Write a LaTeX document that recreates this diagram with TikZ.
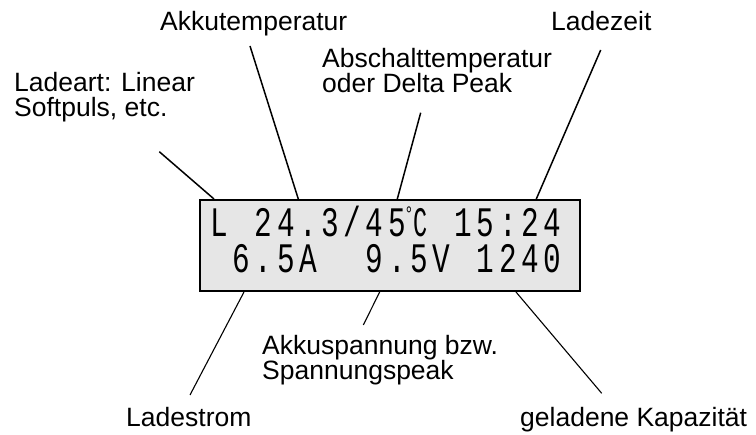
\documentclass[tikz,border=0pt]{standalone}
\usepackage{fontspec}
\setmainfont{Liberation Sans}
\newfontfamily\lcdfont[FakeStretch=0.7]{Liberation Mono}
\definecolor{lcdgray}{HTML}{E6E6E6}
% degree-Celsius sign built from a small ring and a narrow C
\newcommand{\degC}{\makebox[0.7em][l]{\raisebox{0.36em}{\fontsize{22}{22}\selectfont\char"00B0}\scalebox{0.8}[1]{C}}}
% set a row of characters in fixed display cells
\makeatletter
\newcommand{\lcdrow}[1]{\@tfor\lcd@c:=#1\do{\makebox[22.2pt]{\lcd@c}}}
\makeatother
\begin{document}
\begin{tikzpicture}[x=1pt,y=-1pt,
  label/.style={inner sep=0pt, align=left, anchor=base west,
                font=\fontsize{26.5}{25}\selectfont},
  lcd/.style={draw=black, line width=2pt, fill=lcdgray,
              minimum width=380pt, minimum height=91pt, inner sep=0pt},
  lcdtext/.style={inner sep=0pt, align=left, anchor=base west,
                  font=\lcdfont\fontsize{42}{36}\selectfont},
  pointer/.style={line width=1.5pt},
  thinpointer/.style={line width=1.1pt}]
\useasboundingbox (0,0) rectangle (756,435);

% display with its two rows (placed by the baseline of the second row)
\node[lcd] (lcd) at (390,245.5) {};
\node[lcdtext] (rows) at (208,273)
  {\lcdrow{L~24.3/45\degC~15:24}\\\lcdrow{~6.5A~~9.5V~1240}};

% labels (multi-line labels are placed by the baseline of their last line)
\node[label] (akkutemp) at (160,31) {Akkutemperatur};
\node[label] (ladezeit) at (551,31) {Ladezeit};
\node[label] (abschalt) at (322,93) {Abschalttemperatur\\oder Delta Peak};
\node[label] (ladeart)  at (14,117) {Ladeart: Linear\\Softpuls, etc.};
\node[label] (spannung) at (262,380) {Akkuspannung bzw.\\Spannungspeak};
\node[label] (ladestrom) at (126,427) {Ladestrom};
\node[label] (kapazitaet) at (520,427) {geladene Kapazität};

% pointer ends near the labels
\coordinate (p-ladeart)  at (159.3,151.7);
\coordinate (p-akkutemp) at (250,46);
\coordinate (p-abschalt) at (420.7,112.7);
\coordinate (p-ladezeit) at (600.7,50);
\coordinate (p-ladestrom) at (190,395);
\coordinate (p-spannung) at (363.3,325);
\coordinate (p-kapazitaet) at (601.7,393.3);

% pointer ends on the display frame
\coordinate (e-ladeart)  at ([xshift=15pt]lcd.north west);
\coordinate (e-akkutemp) at ([xshift=99.3pt]lcd.north west);
\coordinate (e-abschalt) at ([xshift=198.3pt]lcd.north west);
\coordinate (e-ladezeit) at ([xshift=337.3pt]lcd.north west);
\coordinate (e-ladestrom) at ([xshift=45pt]lcd.south west);
\coordinate (e-spannung) at ([xshift=180.7pt]lcd.south west);
\coordinate (e-kapazitaet) at ([xshift=317pt]lcd.south west);

% pointers
\draw[pointer] (p-ladeart) -- (e-ladeart);
\draw[pointer] (p-akkutemp) -- (e-akkutemp);
\draw[pointer] (p-abschalt) -- (e-abschalt);
\draw[pointer] (p-ladezeit) -- (e-ladezeit);
\draw[thinpointer] (e-ladestrom) -- (p-ladestrom);
\draw[thinpointer] (e-spannung) -- (p-spannung);
\draw[thinpointer] (e-kapazitaet) -- (p-kapazitaet);
\end{tikzpicture}
\end{document}
